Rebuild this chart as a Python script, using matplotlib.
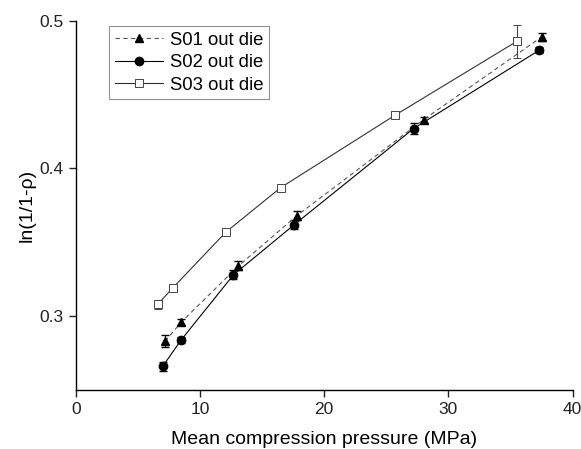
import matplotlib.pyplot as plt
from matplotlib.lines import Line2D
import numpy as np

plt.rcParams['font.family'] = ['Liberation Sans', 'DejaVu Sans']

# Datos
s01_x = [7.2, 8.5, 13.1, 17.8, 28.0, 37.5]
s01_y = [0.283, 0.296, 0.334, 0.368, 0.433, 0.489]
s01_err = [0.004, 0.002, 0.003, 0.003, 0.002, 0.003]

s02_x = [7.0, 8.5, 12.7, 17.6, 27.2, 37.3]
s02_y = [0.266, 0.284, 0.328, 0.362, 0.427, 0.480]
s02_err = [0.003, 0.002, 0.003, 0.003, 0.004, 0.002]

s03_x = [6.6, 7.8, 12.1, 16.5, 25.7, 35.5]
s03_y = [0.308, 0.319, 0.357, 0.387, 0.436, 0.486]
s03_err = [0.003, 0.002, 0.001, 0.001, 0.002, 0.011]

labels = ['S01 out die', 'S02 out die', 'S03 out die']
x_ticks = [0, 10, 20, 30, 40]
y_ticks = [0.3, 0.4, 0.5]

fig = plt.figure(figsize=(5.81, 4.49), dpi=100)
ax = fig.add_axes([0.1303, 0.1314, 0.8554, 0.8225])

# Estilos de cada serie
st01 = dict(color='#555555', linestyle=(0, (4, 3)), linewidth=0.8, marker='^',
            markersize=6, markerfacecolor='black', markeredgecolor='black')
st02 = dict(color='black', linestyle='-', linewidth=0.8, marker='o',
            markersize=6, markerfacecolor='black', markeredgecolor='black')
st03 = dict(color='#333333', linestyle='-', linewidth=0.8, marker='s',
            markersize=6, markerfacecolor='white', markeredgecolor='#444444',
            markeredgewidth=0.7)

ax.errorbar(s01_x, s01_y, yerr=s01_err, ecolor='black', elinewidth=0.8, capsize=3, **st01)
ax.errorbar(s02_x, s02_y, yerr=s02_err, ecolor='black', elinewidth=0.8, capsize=3, **st02)
ax.errorbar(s03_x, s03_y, yerr=s03_err, ecolor='#444444', elinewidth=0.8, capsize=3, **st03)

ax.set_xlim(0, 40)
ax.set_ylim(0.25, 0.5)
ax.set_xticks(x_ticks)
ax.set_yticks(y_ticks)
ax.set_xticklabels([str(t) for t in x_ticks])
ax.set_yticklabels(['%.1f' % t for t in y_ticks])

ax.spines['top'].set_visible(False)
ax.spines['right'].set_visible(False)
for s in ['left', 'bottom']:
    ax.spines[s].set_linewidth(1.0)
ax.tick_params(direction='out', length=5, width=1.0, labelsize=12.5, colors='#222222')

ax.set_xlabel('Mean compression pressure (MPa)', fontsize=14, labelpad=10)
ax.set_ylabel('ln(1/1-ρ)', fontsize=14, labelpad=3)

# Leyenda sin barras de error
handles = [Line2D([], [], **st01), Line2D([], [], **st02), Line2D([], [], **st03)]
leg = ax.legend(handles, labels, loc='upper left', bbox_to_anchor=(0.067, 0.985),
                fontsize=13.3, frameon=True, fancybox=False, edgecolor='#777777',
                handlelength=2.6, borderpad=0.3, labelspacing=0.3,
                handletextpad=0.4, borderaxespad=0)
leg.get_frame().set_linewidth(0.8)

plt.savefig('out.png', dpi=100)
